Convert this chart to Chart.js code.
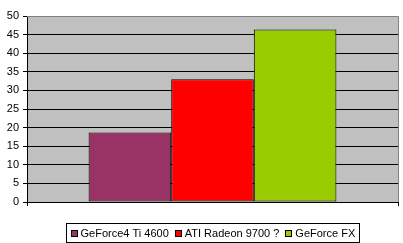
<!DOCTYPE html>
<html>
<head>
<meta charset="utf-8">
<script src="https://cdn.jsdelivr.net/npm/chart.js@4"></script>
<style>
  html, body { margin: 0; padding: 0; background: #fff; }
  #wrap { width: 403px; height: 243px; }
</style>
</head>
<body>
<div id="wrap"><canvas id="barChart" width="403" height="243"></canvas></div>
<script>
// data
const cards = ['GeForce4 Ti 4600', 'ATI Radeon 9700 ?', 'GeForce FX'];
const scores = [18.7, 33.0, 46.4];
const colours = ['#993366', '#FF0000', '#99CC00'];

const FONT = '11px "Liberation Sans", Arial, sans-serif';

// grey plot area + grey border top/right
const PlotBack = {
    id: 'plotBack',
    beforeDraw(chart){
        const {ctx, chartArea: a} = chart;
        ctx.save();
        ctx.fillStyle = '#C0C0C0';
        ctx.fillRect(a.left, a.top, a.right - a.left, a.bottom - a.top);
        ctx.restore();
    },
    afterDraw(chart){
        const {ctx, chartArea: a} = chart;
        ctx.save();
        ctx.strokeStyle = '#808080';
        ctx.lineWidth = 1;
        ctx.beginPath();
        ctx.moveTo(a.left, Math.round(a.top) + 0.5);
        ctx.lineTo(Math.round(a.right) + 0.5, Math.round(a.top) + 0.5);
        ctx.lineTo(Math.round(a.right) + 0.5, Math.round(a.bottom));
        ctx.stroke();
        ctx.restore();
    }
};

// boxed legend under the plot, centred on the plot area
const BoxLegend = {
    id: 'boxLegend',
    afterDraw(chart){
        const {ctx, chartArea: a} = chart;
        const sets = chart.data.datasets;
        ctx.save();
        ctx.font = FONT;
        ctx.textBaseline = 'middle';
        const sq = 7, gapTxt = 3, gapItem = 6, pad = 4;
        let total = 0;
        sets.forEach((ds, i) => {
            total += sq + gapTxt + ctx.measureText(ds.label).width;
            if (i < sets.length - 1) total += gapItem;
        });
        const boxW = total + pad * 2;
        const boxH = 19;
        const cx = (a.left + a.right) / 2;
        const bx = Math.round(cx - boxW / 2) + 0.5;
        const by = 223.5;
        ctx.strokeStyle = '#000';
        ctx.lineWidth = 1;
        ctx.strokeRect(bx, by, Math.round(boxW), boxH);
        let x = bx + pad;
        const y = by + boxH / 2;
        sets.forEach((ds) => {
            ctx.fillStyle = ds.backgroundColor;
            ctx.fillRect(Math.round(x), Math.round(y - sq / 2), sq, sq);
            ctx.strokeStyle = '#000';
            ctx.strokeRect(Math.round(x) + 0.5, Math.round(y - sq / 2) + 0.5, sq - 1, sq - 1);
            x += sq + gapTxt;
            ctx.fillStyle = '#000';
            ctx.fillText(ds.label, x, y + 1);
            x += ctx.measureText(ds.label).width + gapItem;
        });
        ctx.restore();
    }
};

const data = {
    labels: [''],
    datasets: cards.map((name, i) => ({
        label: name,
        data: [scores[i]],
        backgroundColor: colours[i],
        borderColor: '#000',
        borderWidth: 1,
        borderSkipped: false
    }))
};

const options = {
    responsive: false,
    animation: false,
    layout: { padding: { top: 16, right: 5, left: 0, bottom: 37 } },
    datasets: { bar: { categoryPercentage: 0.668, barPercentage: 1.0 } },
    plugins: {
        legend: { display: false },
        tooltip: { enabled: false }
    },
    scales: {
        x: {
            ticks: { display: false },
            grid: { drawOnChartArea: false, color: '#000', tickLength: 4 },
            border: { color: '#000' },
            afterFit(scale){ scale.height = 4; }
        },
        y: {
            min: 0,
            max: 50,
            ticks: { stepSize: 5, color: '#000', font: { family: '"Liberation Sans", Arial, sans-serif', size: 11 }, padding: 4 },
            grid: {
                color: (c) => c.tick && c.tick.value === 50 ? 'rgba(0,0,0,0)' : '#000',
                tickColor: '#000',
                tickLength: 4
            },
            border: { color: '#000' },
            afterFit(scale){ scale.width = 27; }
        }
    }
};

const barChart = new Chart(document.getElementById('barChart'), {
    type: 'bar',
    data: data,
    options: options,
    plugins: [PlotBack, BoxLegend]
});
</script>
</body>
</html>
